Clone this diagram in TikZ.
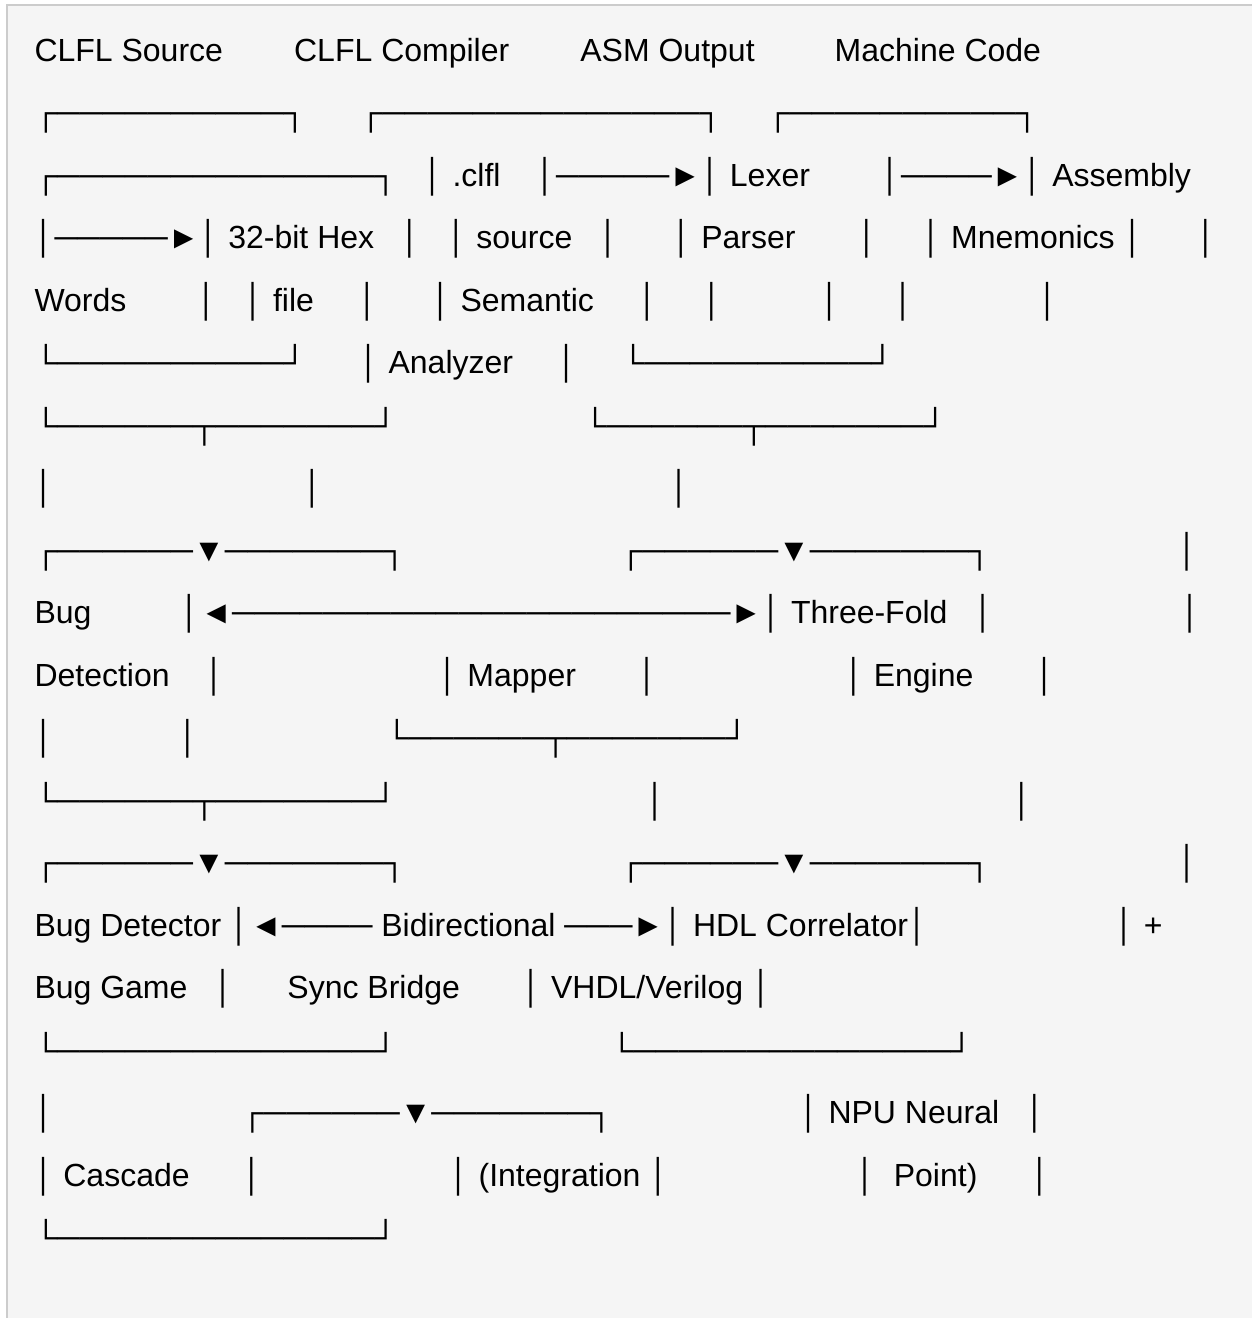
\documentclass[tikz,border=0pt]{standalone}
\usepackage{fontspec}
\setmainfont{Liberation Sans}
\ExplSyntaxOn
\cs_set:Npn \hrun #1 {\prg_replicate:nn{#1}{─}}
\ExplSyntaxOff
\def\gapn#1{\hspace*{#1\fontdimen2\font}}
\definecolor{bgcol}{HTML}{F5F5F5}
\definecolor{edgecol}{HTML}{CCCCCC}
\tikzset{ln/.style={anchor=base west, inner sep=0pt, outer sep=0pt,
  font=\fontsize{32}{38}\selectfont, text=black}}
\begin{document}
\begin{tikzpicture}[x=1pt,y=-1pt]
\useasboundingbox (0,0) rectangle (1252,1318);
\fill[white] (0,0) rectangle (1252,1318);
\fill[bgcol] (7,5) rectangle (1252,1318);
\draw[edgecol, line width=1.5pt] (7,1318) -- (7,5) -- (1252,5);
\node[ln] (L1) at (34.5,61) {CLFL Source\gapn{8}CLFL Compiler\gapn{8}ASM Output\gapn{9}Machine Code};
\node[ln] (L2) at (34.5,123.5) {┌\hrun{10}┐\gapn{6}┌\hrun{14}┐\gapn{5}┌\hrun{10}┐};
\node[ln] (L3) at (34.5,186) {┌\hrun{14}┐\gapn{3}│ .clfl\gapn{4}│\hrun{5}►│ Lexer\gapn{8}│\hrun{4}►│ Assembly};
\node[ln] (L4) at (34.5,248.5) {│\hrun{5}►│ 32-bit Hex\gapn{3}│\gapn{3}│ source\gapn{3}│\gapn{6}│ Parser\gapn{7}│\gapn{5}│ Mnemonics\gapn{1}│\gapn{6}│};
\node[ln] (L5) at (34.5,311) {Words\gapn{8}│\gapn{3}│ file\gapn{5}│\gapn{6}│ Semantic\gapn{5}│\gapn{5}│\gapn{11}│\gapn{6}│\gapn{14}│};
\node[ln] (L6) at (34.5,373.5) {└\hrun{10}┘\gapn{6}│ Analyzer\gapn{5}│\gapn{5}└\hrun{10}┘};
\node[ln] (L7) at (34.5,436) {└\hrun{6}┬\hrun{7}┘\gapn{21}└\hrun{6}┬\hrun{7}┘};
\node[ln] (L8) at (34.5,498.5) {│\gapn{28}│\gapn{39}│};
\node[ln] (L9) at (34.5,561) {┌\hrun{6}▼\hrun{7}┐\gapn{24}┌\hrun{6}▼\hrun{7}┐\gapn{21}│};
\node[ln] (L10) at (34.5,623.5) {Bug\gapn{10}│◄\hrun{22}►│ Three-Fold\gapn{3}│\gapn{21}│};
\node[ln] (L11) at (34.5,686) {Detection\gapn{4}│\gapn{24}│ Mapper\gapn{7}│\gapn{21}│ Engine\gapn{7}│};
\node[ln] (L12) at (34.5,748.5) {│\gapn{14}│\gapn{21}└\hrun{6}┬\hrun{7}┘};
\node[ln] (L13) at (34.5,811) {└\hrun{6}┬\hrun{7}┘\gapn{28}│\gapn{39}│};
\node[ln] (L14) at (34.5,873.5) {┌\hrun{6}▼\hrun{7}┐\gapn{24}┌\hrun{6}▼\hrun{7}┐\gapn{21}│};
\node[ln] (L15) at (34.5,936) {Bug Detector\gapn{1}│◄\hrun{4} Bidirectional \hrun{3}►│ HDL Correlator│\gapn{21}│ +};
\node[ln] (L16) at (34.5,998.5) {Bug Game\gapn{3}│\gapn{6}Sync Bridge\gapn{7}│ VHDL/Verilog\gapn{1}│};
\node[ln] (L17) at (34.5,1061) {└\hrun{14}┘\gapn{24}└\hrun{14}┘};
\node[ln] (L18) at (34.5,1123.5) {│\gapn{21}┌\hrun{6}▼\hrun{7}┐\gapn{21}│ NPU Neural\gapn{3}│};
\node[ln] (L19) at (34.5,1186) {│ Cascade\gapn{6}│\gapn{21}│ (Integration\gapn{1}│\gapn{21}│\gapn{2}Point)\gapn{6}│};
\node[ln] (L20) at (34.5,1248.5) {└\hrun{14}┘};
\end{tikzpicture}
\end{document}
